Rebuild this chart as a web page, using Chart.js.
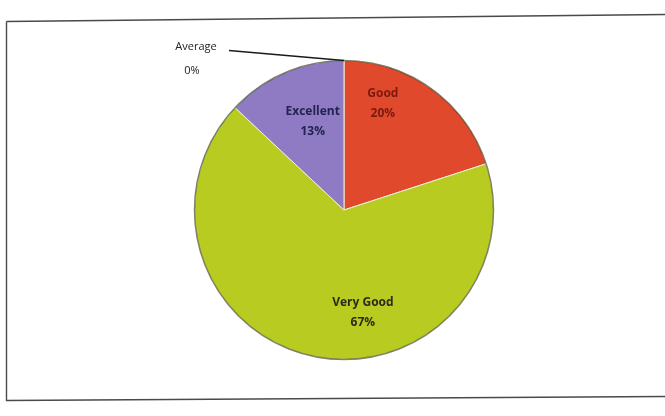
<!DOCTYPE html>
<html>
<head>
<meta charset="utf-8">
<script src="https://cdn.jsdelivr.net/npm/chart.js@4/dist/chart.umd.min.js"></script>
<style>
  html, body { margin: 0; padding: 0; background: #fff; }
  #wrap { width: 665px; height: 416px; }
</style>
</head>
<body>
<div id="wrap"><canvas id="chart" width="665" height="416"></canvas></div>
<script>
'use strict';

// values (percent)
var categories = ['Average', 'Good', 'Very Good', 'Excellent'];
var percents = [0, 20, 67, 13];
var sliceColors = ['#8e7bc4', '#e0492b', '#b7cb20', '#8e7bc4'];
var labelColors = ['#222222', '#7a1a10', '#2b2b1a', '#23234f'];

// where each label sits: angle offset from slice middle (deg), radius as fraction
var labelSpots = [null, { da: -16, rf: 0.76 }, { da: -23, rf: 0.70 }, { da: 4, rf: 0.63 }];

var frame = {
	id: 'frame',
	beforeDraw: function (chart) {
		var ctx = chart.ctx;
		ctx.save();
		ctx.strokeStyle = '#4a4a4a';
		ctx.lineWidth = 1.4;
		ctx.beginPath();
		ctx.moveTo(6.5, 21.5);
		ctx.lineTo(665, 14.5);
		ctx.moveTo(6.5, 21.5);
		ctx.lineTo(6.5, 400.5);
		ctx.lineTo(665, 396.5);
		ctx.stroke();
		ctx.restore();
	}
};

var sliceLabels = {
	id: 'sliceLabels',
	afterDatasetsDraw: function (chart) {
		var ctx = chart.ctx;
		var arcs = chart.getDatasetMeta(0).data;
		ctx.save();

		// darker rim round the pie, as in the photo
		var c = arcs[0].getProps(['x', 'y', 'outerRadius'], true);
		ctx.strokeStyle = 'rgba(40,40,20,0.55)';
		ctx.lineWidth = 1.5;
		ctx.beginPath();
		ctx.arc(c.x, c.y, c.outerRadius, 0, Math.PI * 2);
		ctx.stroke();

		ctx.textAlign = 'center';
		ctx.textBaseline = 'middle';
		arcs.forEach(function (arc, i) {
			var p = arc.getProps(['x', 'y', 'startAngle', 'endAngle', 'outerRadius'], true);
			if (!labelSpots[i]) {
				// zero slice: label outside with a leader line to the slice edge
				var ex = p.x + Math.cos(p.startAngle) * p.outerRadius;
				var ey = p.y + Math.sin(p.startAngle) * p.outerRadius;
				var lx = p.x - 148, ly = p.y - 160;
				ctx.strokeStyle = '#1a1a1a';
				ctx.lineWidth = 1.5;
				ctx.beginPath();
				ctx.moveTo(lx + 33, ly + 0.5);
				ctx.lineTo(ex, ey);
				ctx.stroke();
				ctx.fillStyle = labelColors[i];
				ctx.font = '11px "Open Sans", sans-serif';
				ctx.fillText(categories[i], lx, ly - 3);
				ctx.fillText(percents[i] + '%', lx - 4, ly + 21);
				return;
			}
			var a = (p.startAngle + p.endAngle) / 2 + labelSpots[i].da * Math.PI / 180;
			var r = p.outerRadius * labelSpots[i].rf;
			var x = p.x + Math.cos(a) * r;
			var y = p.y + Math.sin(a) * r;
			ctx.fillStyle = labelColors[i];
			ctx.font = 'bold 12px "Open Sans", sans-serif';
			ctx.fillText(categories[i], x, y - 10);
			ctx.fillText(percents[i] + '%', x, y + 10);
		});
		ctx.restore();
	}
};

new Chart(document.getElementById('chart'), {
	type: 'pie',
	data: {
		labels: categories,
		datasets: [{
			data: percents,
			backgroundColor: sliceColors,
			borderColor: '#eef0d8',
			borderWidth: 1
		}]
	},
	options: {
		responsive: false,
		animation: false,
		layout: { padding: { left: 193, right: 170, top: 60, bottom: 56 } },
		plugins: {
			legend: { display: false },
			tooltip: { enabled: false }
		}
	},
	plugins: [frame, sliceLabels]
});
</script>
</body>
</html>
